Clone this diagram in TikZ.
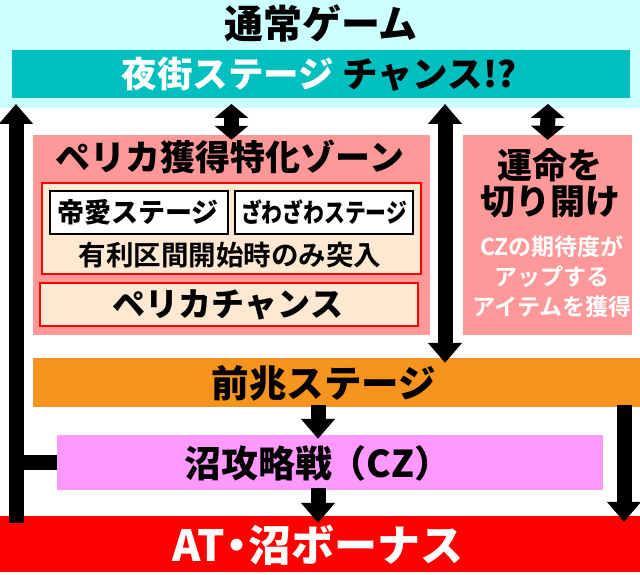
\documentclass[tikz,border=0pt]{standalone}
\usepackage{fontspec}
\newfontfamily\jp{Noto Sans CJK JP}[BoldFont={Noto Sans CJK JP Black}]
\newfontfamily\jpmed{Noto Sans CJK JP Bold}
\usetikzlibrary{arrows.meta,positioning}

\definecolor{normalbg}{HTML}{CCFFFF}
\definecolor{yomachi}{HTML}{00BFBF}
\definecolor{perika}{HTML}{FF9999}
\definecolor{peach}{HTML}{FDE8D2}
\definecolor{zencho}{HTML}{F7941D}
\definecolor{numa}{HTML}{FF99FF}
\definecolor{bonus}{HTML}{FF0000}

\newcommand\jpfont[1]{\jp\bfseries\fontsize{#1}{#1}\selectfont}

\tikzset{
  panel/.style={rectangle,inner sep=0pt,draw=none},
  txt/.style={inner sep=0pt,font=\jpfont{#1}},
  flow/.style={line width=15pt,-{Triangle[width=33pt,length=20pt]}},
  flowboth/.style={line width=15pt,{Triangle[width=33pt,length=14pt]}-{Triangle[width=33pt,length=14pt]}},
  flowlong/.style={line width=15pt,{Triangle[width=33pt,length=20pt]}-{Triangle[width=33pt,length=20pt]}},
}

\begin{document}
\begin{tikzpicture}[x=1pt,y=-1pt]
    \useasboundingbox (0,0) rectangle (640,575);
    \fill[white] (0,0) rectangle (640,575);

    % normal game
    \node[panel,fill=normalbg,minimum width=640pt,minimum height=108pt] (normal) at (320,54) {};
    \node[txt=39] (normaltitle) at (321,23) {通常ゲーム};
    \node[panel,fill=yomachi,minimum width=618pt,minimum height=48pt] (yomachi) at (321,74) {};
    \node[txt=35.5] (yomachitext) at (319,74) {\textcolor{white}{夜街ステージ} チャンス!?};

    % perika zone
    \node[panel,fill=perika,minimum width=397pt,minimum height=200pt] (zone) at (231.5,235) {};
    \node[txt=35] (zonetitle) at (230,157) {ペリカ獲得特化ゾーン};
    \node[panel,fill=peach,draw=bonus,line width=1.5pt,minimum width=379pt,minimum height=91pt] (stages) at (231.5,228.5) {};
    \node[panel,fill=white,draw=black,line width=1.8pt,minimum width=178pt,minimum height=43pt] (teiai) at (139,212.5) {};
    \node[txt=27] (teiaitext) at (138,212.5) {帝愛ステージ};
    \node[panel,fill=white,draw=black,line width=1.8pt,minimum width=178pt,minimum height=43pt] (zawa) at (324,212.5) {};
    \node[txt=26] (zawatext) at (324,212.5) {\scalebox{0.8}[1]{ざわざわステージ}};
    \node[inner sep=0pt,font=\jpmed\fontsize{27.5}{27.5}\selectfont] (stagenote) at (230,255) {有利区間開始時のみ突入};
    \node[panel,fill=peach,draw=bonus,line width=1.5pt,minimum width=378pt,minimum height=43pt] (chance) at (229,304.5) {};
    \node[txt=33] (chancetext) at (228,305) {ペリカチャンス};

    % unmei
    \node[panel,fill=perika,minimum width=169pt,minimum height=200pt] (unmei) at (547.5,235) {};
    \node[inner sep=0pt,align=center,font=\jp\bfseries\fontsize{35}{36}\selectfont] (unmeititle) at (550,183) {運命を\\切り開け};
    \node[inner sep=0pt,align=center,text=white,font=\jpmed\fontsize{23}{30}\selectfont] (unmeinote) at (552,277) {CZの期待度が\\アップする\\アイテムを獲得};

    % zencho, cz, bonus
    \node[panel,fill=zencho,minimum width=607pt,minimum height=49pt] (zencho) at (336.5,382.5) {};
    \node[txt=37.5] (zenchotext) at (324,383) {前兆ステージ};
    \node[panel,fill=numa,minimum width=546pt,minimum height=55pt] (cz) at (330,462.5) {};
    \node[txt=37] (cztext) at (318,463) {沼攻略戦\kern-3pt（CZ）};
    \node[panel,fill=bonus,minimum width=640pt,minimum height=56pt] (bonus) at (320,544) {};
    \node[txt=43,text=white] (bonustext) at (318,545) {AT\kern-10pt・\kern-10pt沼ボーナス};

    % arrows
    \coordinate (lefttop) at (16,104);
    \coordinate (up1) at (231.5,104);
    \coordinate (up2) at (445,104);
    \coordinate (up3) at (548,104);
    \coordinate (rx) at (624,400);
    \draw[flow] ([yshift=-7pt]bonus.north -| lefttop) -- (lefttop);
    \draw[line width=15pt] (cz.west) -- (cz.west -| lefttop);
    \draw[flowboth] (up1) -- ([yshift=-5pt]zone.north);
    \draw[flowlong] (up2) -- ([yshift=-5pt]zencho.north -| up2);
    \draw[flowboth] (up3) -- ([yshift=-5pt]unmei.north);
    \draw[flow] ([yshift=2pt]zencho.south -| cztext) -- ([yshift=-4pt]cz.north -| cztext);
    \draw[flow] ([yshift=2pt]cz.south -| cztext) -- ([yshift=-7pt]bonus.north -| cztext);
    \draw[flow] ([yshift=2pt]zencho.south -| rx) -- ([yshift=-6pt]bonus.north -| rx);
\end{tikzpicture}
\end{document}
